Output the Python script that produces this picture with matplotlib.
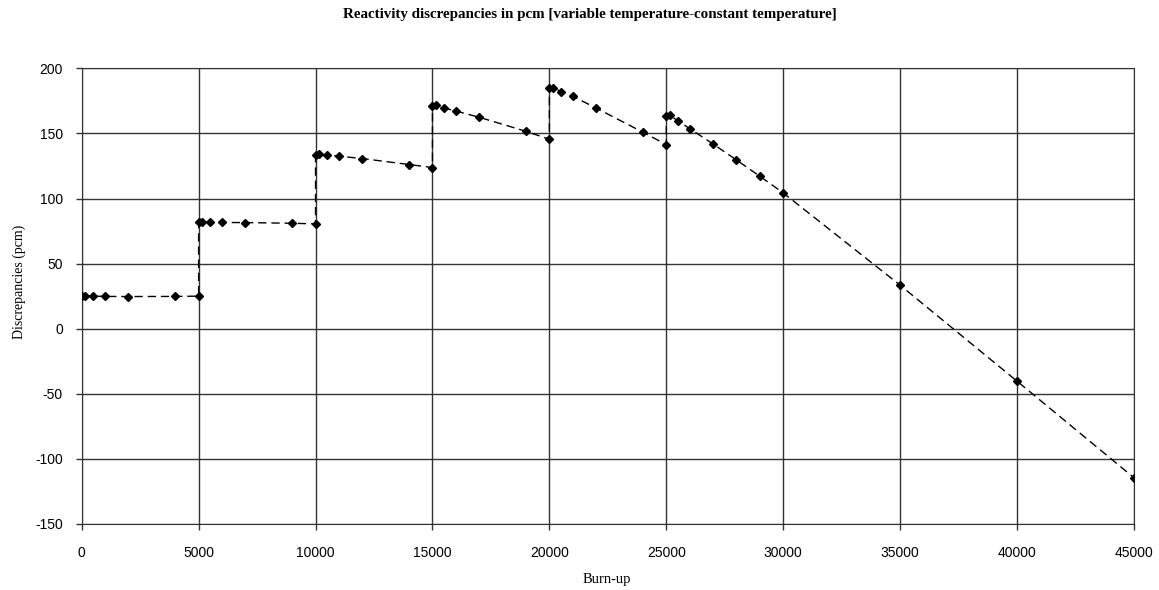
from matplotlib import pyplot as plt
import numpy as np

# burn-up steps and reactivity discrepancies (pcm)
burnup = [0, 150, 500, 1000, 2000, 4000, 5000,
          5000, 5150, 5500, 6000, 7000, 9000, 10000,
          10000, 10150, 10500, 11000, 12000, 14000, 15000,
          15000, 15150, 15500, 16000, 17000, 19000, 20000,
          20000, 20150, 20500, 21000, 22000, 24000, 25000,
          25000, 25150, 25500, 26000, 27000, 28000, 29000, 30000,
          35000, 40000, 45000]
discrep = [25.2, 25.2, 25.0, 24.8, 24.7, 24.8, 25.0,
           82.0, 82.2, 81.8, 81.6, 81.5, 81.0, 80.5,
           133.5, 134.0, 133.3, 132.5, 130.7, 126.1, 123.8,
           171.1, 171.6, 169.5, 167.2, 162.4, 151.6, 145.5,
           185.2, 185.2, 182.1, 178.5, 169.5, 150.9, 141.4,
           163.4, 163.9, 159.6, 153.7, 141.9, 129.6, 117.1, 104.3,
           33.4, -40.3, -114.5]

x_ticks = np.arange(0, 45001, 5000)
y_ticks = np.arange(-150, 201, 50)

plt.rcParams['axes.unicode_minus'] = False


def draw():
    fig = plt.figure(figsize=(11.59, 5.90), dpi=100)
    ax = fig.add_axes([0.0705, 0.1119, 0.9079, 0.7723])

    ax.plot(burnup, discrep, color='black', lw=1.0, ls=(0, (6, 3.5)),
            marker='D', ms=4.5, mfc='black', mec='black', zorder=3)

    ax.set_xlim(0, 45000)
    ax.set_ylim(-150, 200)
    ax.set_xticks(x_ticks)
    ax.set_yticks(y_ticks)
    ax.grid(True, color='#333333', lw=1.0)
    ax.set_axisbelow(True)
    for s in ax.spines.values():
        s.set_color('#333333')
    ax.tick_params(direction='out', length=4.5, width=1, color='#333333',
                   labelsize=10)
    ax.tick_params(axis='y', pad=9)
    ax.tick_params(axis='x', pad=11)
    for lab in ax.get_xticklabels() + ax.get_yticklabels():
        lab.set_family('Liberation Sans')

    fig.text(0.5237, 0.0186, 'Burn-up', family='Liberation Serif',
             fontsize=10.5, ha='center', va='center')
    fig.text(0.0164, 0.522, 'Discrepancies (pcm)', family='Liberation Serif',
             fontsize=10, rotation=90, ha='center', va='center')
    fig.text(0.509, 0.975,
             'Reactivity discrepancies in pcm [variable temperature-constant temperature]',
             family='Liberation Serif', fontweight='bold', fontsize=10.8,
             ha='center', va='center')

    fig.savefig('out.png', dpi=100)


if __name__ == '__main__':
    draw()
